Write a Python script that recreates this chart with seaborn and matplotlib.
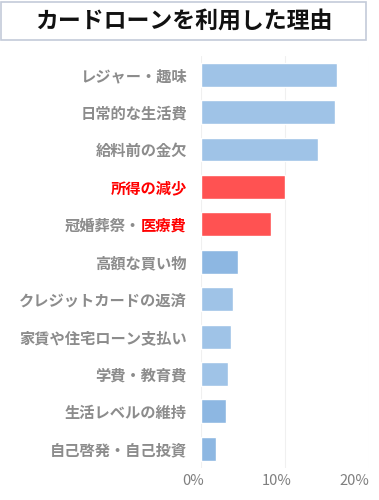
import pandas as pd
import matplotlib.pyplot as plt
import matplotlib.transforms as mtransforms
import seaborn as sns
from matplotlib.patches import Rectangle

# Data
reasons = ['レジャー・趣味', '日常的な生活費', '給料前の金欠', '所得の減少', '冠婚葬祭・医療費',
           '高額な買い物', 'クレジットカードの返済', '家賃や住宅ローン支払い', '学費・教育費',
           '生活レベルの維持', '自己啓発・自己投資']
shares = [16.2, 16.0, 13.9, 10.0, 8.3, 4.4, 3.8, 3.6, 3.2, 3.0, 1.8]
bar_colors = ['#9fc3e7', '#9fc3e7', '#9fc3e7', '#ff5252', '#ff5252',
              '#8db7e2', '#9fc3e7', '#9fc3e7', '#9fc3e7', '#8db7e2', '#8db7e2']
# tick label text: the split label gets its gray prefix drawn separately
tick_text = ['レジャー・趣味', '日常的な生活費', '給料前の金欠', '所得の減少', '医療費',
             '高額な買い物', 'クレジットカードの返済', '家賃や住宅ローン支払い', '学費・教育費',
             '生活レベルの維持', '自己啓発・自己投資']
tick_colors = ['#8c8c8c', '#8c8c8c', '#8c8c8c', '#ff0000', '#ff0000',
               '#8c8c8c', '#8c8c8c', '#8c8c8c', '#8c8c8c', '#8c8c8c', '#8c8c8c']
split_prefix = '冠婚葬祭・'
x_ticks = [0, 10, 20]
x_labels = ['0%', '10%', '20%']

df = pd.DataFrame({'reason': reasons, 'share': shares})

sns.set_style('white')
plt.rcParams['font.family'] = ['Noto Sans CJK JP', 'DejaVu Sans']

fig = plt.figure(figsize=(3.79, 5.0), dpi=100)
ax = fig.add_axes([0.530, 0.065, 0.444, 0.823])

sns.barplot(data=df, x='share', y='reason', hue='reason', palette=bar_colors,
            legend=False, width=0.64, ax=ax, saturation=1)

ax.set_xlim(0, 20)
ax.set_xticks(x_ticks)
ax.set_xticklabels(x_labels, fontsize=10.5, color='#7f7f7f')
ax.set_xlabel('')
ax.set_ylabel('')
ax.grid(axis='x', color='#f0f0f0', linewidth=0.8)
ax.set_axisbelow(True)
for s in ax.spines.values():
    s.set_visible(False)
ax.tick_params(axis='x', length=0, pad=5)
ax.tick_params(axis='y', length=0, pad=10)

# nudge x labels left like the original; last one right-aligned on its tick
shift = mtransforms.ScaledTranslation(-8 / 100, 0, fig.dpi_scale_trans)
xl = ax.get_xticklabels()
for lbl in xl[:-1]:
    lbl.set_transform(lbl.get_transform() + shift)
xl[-1].set_horizontalalignment('right')

ax.set_yticks(range(len(tick_text)))
ax.set_yticklabels(tick_text, fontsize=11, fontweight='bold')
for lbl, c in zip(ax.get_yticklabels(), tick_colors):
    lbl.set_color(c)

fig.canvas.draw()
red_part = ax.get_yticklabels()[4]
ax.annotate(split_prefix, xy=(0, 0.5), xycoords=red_part, ha='right', va='center',
            fontsize=11, fontweight='bold', color='#8c8c8c')

# Title box
fig.patches.append(Rectangle((0.003, 0.920), 0.963, 0.076, transform=fig.transFigure,
                             facecolor='white', edgecolor='#c3cbd9', linewidth=1.2))
fig.text(0.484, 0.958, 'カードローンを利用した理由', ha='center', va='center',
         fontsize=16.5, fontweight='bold', color='#111111')

plt.savefig('out.png', dpi=100)
